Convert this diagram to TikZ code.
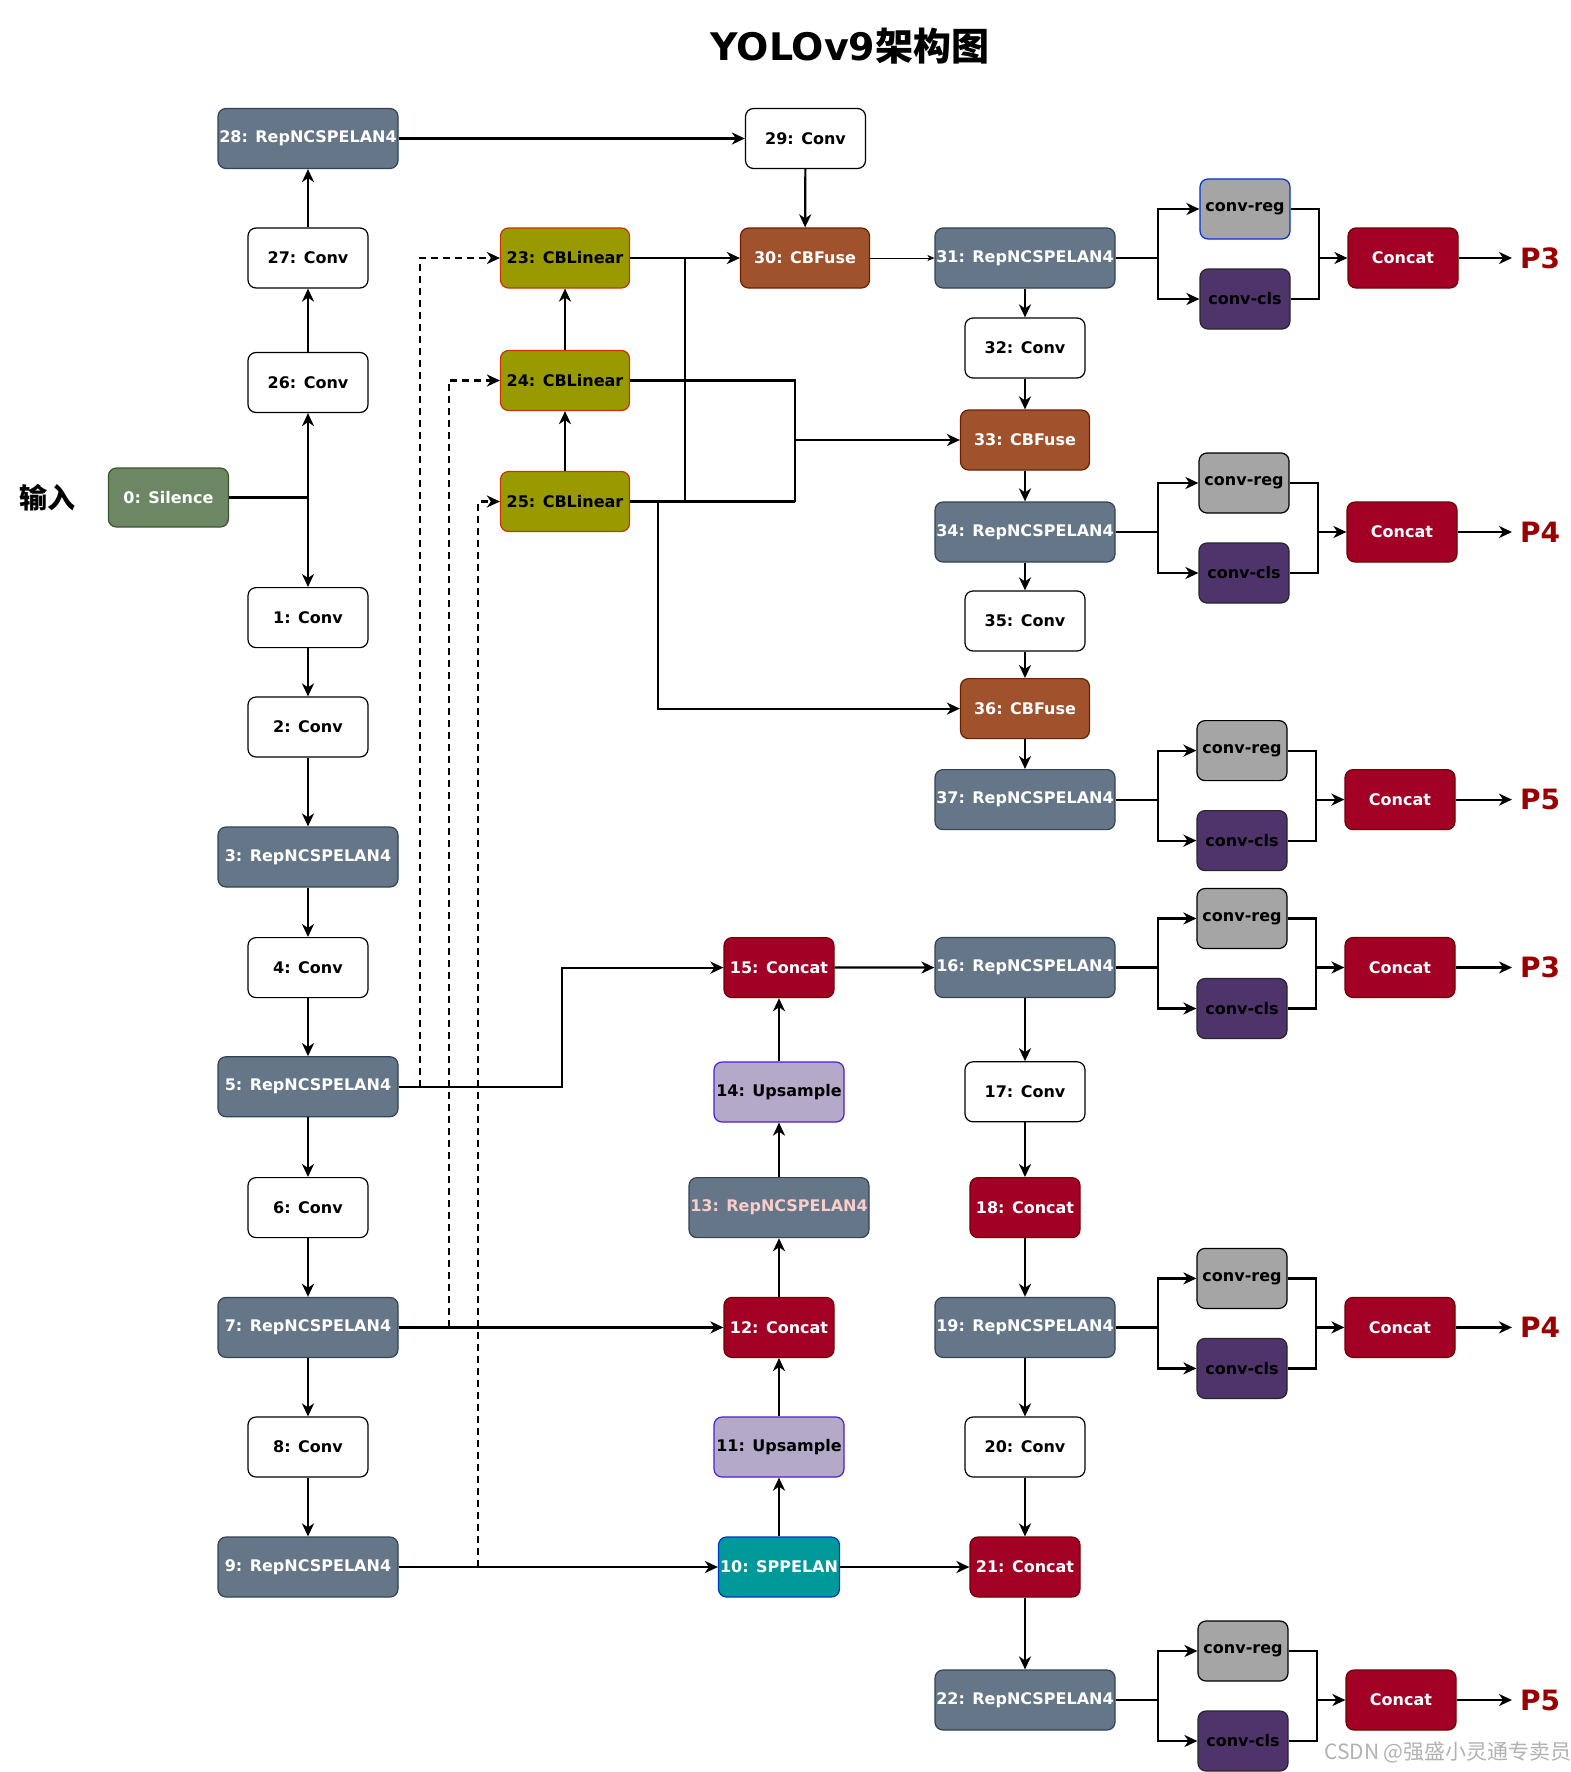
\documentclass[tikz,border=0pt]{standalone}
\usepackage{fontspec}
\setmainfont{DejaVu Sans}
\newfontfamily\cjk{Noto Sans CJK SC}
\usetikzlibrary{arrows.meta}
\definecolor{repF}{HTML}{647687}
\definecolor{repD}{HTML}{314354}
\definecolor{silF}{HTML}{6D8764}
\definecolor{silD}{HTML}{3A5431}
\definecolor{cblF}{HTML}{999900}
\definecolor{cblD}{HTML}{CC3300}
\definecolor{cbfF}{HTML}{A0522D}
\definecolor{cbfD}{HTML}{6D1F00}
\definecolor{catF}{HTML}{A20025}
\definecolor{catD}{HTML}{6F0000}
\definecolor{upF}{HTML}{B4A9C8}
\definecolor{upD}{HTML}{4C1DD6}
\definecolor{sppF}{HTML}{009999}
\definecolor{sppD}{HTML}{0033CC}
\definecolor{regF}{HTML}{A5A5A5}
\definecolor{clsF}{HTML}{4F336B}
\definecolor{pred}{HTML}{990000}
\definecolor{pinkt}{HTML}{F8CECC}
\newcommand\myhead[5]{%
  \node[regbox, draw=#4] (reg#1) at ({1245+#5},{#2-49}) {conv-reg};
  \node[clsbox] (cls#1) at ({1245+#5},{#2+41}) {conv-cls};
  \node[catbox, minimum width=110pt] (cat#1) at ({1403+#5},#2) {Concat};
  \node[plabel] (P#1) at (1520,#2) {#3};
  \coordinate (sp#1) at (1157.6,#2);
  \coordinate (mg#1) at ({1319+#5},#2);
  \draw[ln] (#1.east) -- (sp#1);
  \draw[arr] (sp#1) |- (reg#1.west);
  \draw[arr] (sp#1) |- (cls#1.west);
  \draw[ln] (reg#1.east) -| (mg#1);
  \draw[ln] (cls#1.east) -| (mg#1);
  \draw[arr] (mg#1) -- (cat#1.west);
  \draw[arr] (cat#1.east) -- ([xshift=-8pt]P#1.west);
}
\begin{document}
\begin{tikzpicture}[x=1pt,y=-1pt,
  box/.style={rounded corners=8pt, line width=1.2pt, inner sep=0pt, minimum height=60pt, font=\bfseries\fontsize{16}{19}\selectfont},
  rep/.style={box, fill=repF, draw=repD, text=white, minimum width=180pt},
  conv/.style={box, fill=white, draw=black, minimum width=120pt},
  silbox/.style={box, fill=silF, draw=silD, text=white, minimum width=120pt, minimum height=59pt},
  cbl/.style={box, fill=cblF, draw=cblD, text=black, minimum width=129pt},
  cbf/.style={box, fill=cbfF, draw=cbfD, text=white, minimum width=129pt},
  catbox/.style={box, fill=catF, draw=catD, text=white, minimum width=110pt},
  upbox/.style={box, fill=upF, draw=upD, text=black, minimum width=130pt},
  sppbox/.style={box, fill=sppF, draw=sppD, text=white, minimum width=121pt},
  regbox/.style={box, fill=regF, draw=black, text=black, minimum width=90pt},
  clsbox/.style={box, fill=clsF, draw=black!85, text=black, minimum width=90pt},
  plabel/.style={anchor=west, inner sep=0pt, text=pred, font=\bfseries\fontsize{28}{30}\selectfont},
  ln/.style={line width=2.2pt},
  arr/.style={line width=2.2pt, -{Stealth[length=13pt,width=12pt,inset=4pt]}},
  dsh/.style={line width=2.2pt, dash pattern=on 7pt off 5pt, -{Stealth[length=13pt,width=12pt,inset=4pt]}}
]
\useasboundingbox (0,0) rectangle (1571,1772);
\fill[white] (0,0) rectangle (1571,1772);

% title and side text
\node (title) at (850,46) {\bfseries\fontsize{38}{42}\selectfont YOLOv9{\cjk\bfseries 架构图}};
\node (inp) at (47.5,498) {\cjk\bfseries\fontsize{28}{30}\selectfont 输入};
\node[anchor=west, inner sep=0pt, text=black!30] (wm) at (1324,1752) {\cjk\fontsize{21}{23}\selectfont CSDN @强盛小灵通专卖员};

% column A
\node[rep]  (n28) at (308,138.5) {28: RepNCSPELAN4};
\node[conv] (n27) at (308,258) {27: Conv};
\node[conv] (n26) at (308,382.5) {26: Conv};
\node[silbox] (n0) at (168.4,497.5) {0: Silence};
\node[conv] (n1) at (308,617.6) {1: Conv};
\node[conv] (n2) at (308,727) {2: Conv};
\node[rep]  (n3) at (308,857) {3: RepNCSPELAN4};
\node[conv] (n4) at (308,967.6) {4: Conv};
\node[rep]  (n5) at (308,1086.7) {5: RepNCSPELAN4};
\node[conv] (n6) at (308,1207.6) {6: Conv};
\node[rep]  (n7) at (308,1327.4) {7: RepNCSPELAN4};
\node[conv] (n8) at (308,1447) {8: Conv};
\node[rep]  (n9) at (308,1567) {9: RepNCSPELAN4};

% column B
\node[cbl] (n23) at (565,258) {23: CBLinear};
\node[cbl] (n24) at (565,380.5) {24: CBLinear};
\node[cbl] (n25) at (565,501.5) {25: CBLinear};

% column C
\node[conv] (n29) at (805.5,138.5) {29: Conv};
\node[cbf]  (n30) at (805,258) {30: CBFuse};
\node[catbox] (n15) at (779,967.6) {15: Concat};
\node[upbox] (n14) at (779,1092) {14: Upsample};
\node[rep, text=pinkt] (n13) at (779,1207.6) {13: RepNCSPELAN4};
\node[catbox] (n12) at (779,1327.4) {12: Concat};
\node[upbox] (n11) at (779,1447) {11: Upsample};
\node[sppbox] (n10) at (779,1567) {10: SPPELAN};

% column D
\node[rep]  (n31) at (1025,258) {31: RepNCSPELAN4};
\node[conv] (n32) at (1025,348) {32: Conv};
\node[cbf]  (n33) at (1025,440) {33: CBFuse};
\node[rep]  (n34) at (1025,532) {34: RepNCSPELAN4};
\node[conv] (n35) at (1025,621) {35: Conv};
\node[cbf]  (n36) at (1025,708.6) {36: CBFuse};
\node[rep]  (n37) at (1025,799.6) {37: RepNCSPELAN4};
\node[rep]  (n16) at (1025,967.5) {16: RepNCSPELAN4};
\node[conv] (n17) at (1025,1091.8) {17: Conv};
\node[catbox] (n18) at (1025,1207.6) {18: Concat};
\node[rep]  (n19) at (1025,1327.4) {19: RepNCSPELAN4};
\node[conv] (n20) at (1025,1447) {20: Conv};
\node[catbox] (n21) at (1025,1567) {21: Concat};
\node[rep]  (n22) at (1025,1700) {22: RepNCSPELAN4};

% column A connectors
\coordinate (j0) at (308,497.5);
\draw[ln] (n0.east) -- (j0);
\draw[arr] (j0) -- (n26.south);
\draw[arr] (j0) -- (n1.north);
\draw[arr] (n26) -- (n27);
\draw[arr] (n27) -- (n28);
\draw[arr] (n28) -- (n29);
\draw[arr] (n29) -- (n30);
\foreach \a/\b in {n1/n2,n2/n3,n3/n4,n4/n5,n5/n6,n6/n7,n7/n8,n8/n9}
  \draw[arr] (\a) -- (\b);

% dashed feeds to CBLinear
\coordinate (d23) at (420,0);
\coordinate (d24) at (449,0);
\coordinate (d25) at (478,0);
\draw[dsh] (n5.east -| d23) |- (n23.west);
\draw[dsh] (n7.east -| d24) |- (n24.west);
\draw[dsh] (n9.east -| d25) |- (n25.west);

% backbone to neck
\coordinate (j5) at (562,0);
\draw[arr] (n5.east) -- (n5.east -| j5) |- (n15.west);
\draw[arr] (n7) -- (n12);
\draw[arr] (n9) -- (n10);
\foreach \a/\b in {n10/n11,n11/n12,n12/n13,n13/n14,n14/n15}
  \draw[arr] (\a) -- (\b);
\draw[arr] (n15) -- (n16);
\foreach \a/\b in {n16/n17,n17/n18,n18/n19,n19/n20,n20/n21,n21/n22}
  \draw[arr] (\a) -- (\b);
\draw[arr] (n10) -- (n21);

% CBLinear block
\draw[arr] (n25) -- (n24);
\draw[arr] (n24) -- (n23);
\coordinate (bx) at (795,0);
\coordinate (vx) at (685,0);
\coordinate (wx) at (658,0);
\draw[ln] (n25.east) -- (n25.east -| bx);
\draw[ln] (n24.east) -- (n24.east -| bx) -- (n25.east -| bx);
\draw[arr] (bx |- n33.west) -- (n33.west);
\draw[ln] (n25.east -| vx) -- (n23.east -| vx);
\draw[arr] (n25.east -| wx) |- (n36.west);
\draw[arr] (n23) -- (n30);
\draw[line width=1pt, -{Stealth[length=7pt,width=6pt,inset=2pt]}] (n30) -- (n31);
\foreach \a/\b in {n31/n32,n32/n33,n33/n34,n34/n35,n35/n36,n36/n37}
  \draw[arr] (\a) -- (\b);

% detection heads
\myhead{n31}{258}{P3}{sppD}{0}
\myhead{n34}{532}{P4}{black}{-1}
\myhead{n37}{799.6}{P5}{black}{-3}
\myhead{n16}{967.5}{P3}{black}{-3}
\myhead{n19}{1327.4}{P4}{black}{-3}
\myhead{n22}{1700}{P5}{black}{-2}
\end{tikzpicture}
\end{document}
